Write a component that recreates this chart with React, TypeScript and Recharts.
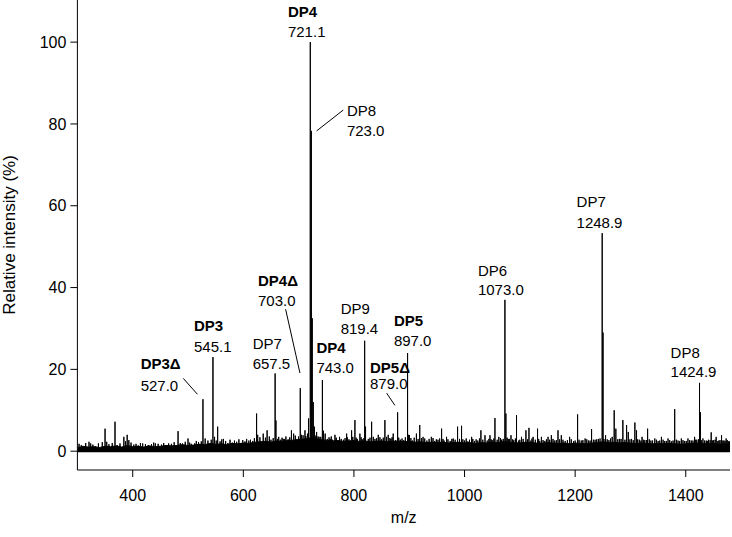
import React from "react";
import {
  Area,
  ComposedChart,
  Line,
  ReferenceLine,
  Scatter,
  XAxis,
  YAxis,
} from "recharts";

// labelled peaks [m/z, relative intensity %]
const mainPeaks: [number, number][] = [
  [527.0, 12.7], [545.1, 23], [657.5, 19], [703.0, 15.4], [721.1, 100],
  [723.0, 78.3], [724.6, 32.5], [743.0, 17.4], [819.4, 27], [879.0, 9.5],
  [897.0, 24], [1073.0, 37], [1248.9, 53.3], [1250.4, 29], [1424.9, 16.7],
];

// smaller peaks
const minorPeaks: [number, number][] = [
  [307, 1.5], [321, 2.3], [324, 1.9], [333, 1.2], [350, 5.5], [353, 2.3],
  [368, 7.2], [372, 1.5], [384, 3.5], [390, 4.0], [393, 2.7], [402, 1.6],
  [410, 1.4], [418, 1.9], [428, 1.5], [434, 1.7], [441, 1.9], [452, 1.6],
  [460, 1.5], [470, 1.8], [482, 4.9], [490, 1.9], [500, 3.1], [506, 1.8],
  [512, 1.9], [519, 2.2], [531, 3.1], [548, 3.5], [553.6, 6.0], [558, 2.4],
  [564, 3.0], [572, 2.0], [580, 2.1], [588, 2.3], [596, 2.0], [603, 2.4],
  [610, 2.6], [617, 2.5], [624, 9.2], [626, 4.0], [636, 4.3], [643, 5.1],
  [650, 2.8], [659, 7.5], [662, 3.0], [667, 2.8], [672, 3.0], [674, 3.0],
  [681, 2.9], [687, 5.1], [691, 4.3], [697, 3.0], [705, 4.0], [711.5, 5.1],
  [716, 4.3], [718, 8], [726.5, 12], [728.5, 6], [732.5, 4.7], [737, 3.5],
  [745, 5], [748, 4.3], [752, 3.0], [757, 3.0], [761, 2.8], [765.7, 4.0],
  [771, 2.7], [777, 3.0], [781, 2.8], [786.8, 4.3], [791, 2.9], [795.8, 5.1],
  [801.8, 7.6], [806, 3.0], [810.8, 4.3], [815, 2.9], [821, 6], [826, 3.0],
  [832, 7.2], [838, 3.0], [844, 4.0], [850, 2.9], [856, 7.6], [862, 4.0],
  [867, 3.0], [871, 4.3], [875, 2.7], [884, 2.8], [890, 2.7], [899, 4],
  [900.5, 3.9], [906, 2.6], [913, 4.3], [919, 6.4], [925, 3.5], [932, 2.6],
  [940, 3.5], [946, 2.5], [952, 2.8], [958.5, 5.5], [963, 2.6], [967.5, 3.5],
  [974, 2.5], [979.5, 3.1], [987.4, 6.0], [994.6, 6.2], [1000, 2.6], [1006, 2.4],
  [1012.8, 3.5], [1018, 2.5], [1024, 2.6], [1029.6, 5.1], [1037, 3.9], [1041, 2.6],
  [1046, 3.9], [1050, 2.7], [1055, 8.1], [1062, 3.5], [1067, 2.8], [1074.8, 9.2],
  [1079, 3.0], [1084, 3.9], [1089, 2.7], [1094, 8.8], [1098, 2.6], [1103, 3.5],
  [1111, 5.1], [1116.5, 5.7], [1120, 2.6], [1124, 3.5], [1132, 5.5], [1136, 2.5],
  [1139, 3.5], [1145, 2.5], [1151, 3.5], [1157, 3.9], [1163, 2.6], [1169, 5.1],
  [1175, 3.9], [1182, 2.5], [1190, 3.5], [1197, 2.4], [1204.4, 9.0], [1211, 2.6],
  [1218, 3.1], [1224, 2.6], [1229.7, 5.4], [1236, 2.8], [1242, 3.0], [1255, 3.9],
  [1261, 2.7], [1267, 3.5], [1270.6, 10.0], [1273.6, 5.5], [1280, 3.0], [1286.3, 7.6],
  [1293, 6.4], [1296, 4.7], [1302, 3.0], [1308, 7.0], [1311, 5.1], [1316, 2.8],
  [1321, 3.5], [1326, 2.7], [1331, 5.5], [1337, 2.6], [1344, 3.1], [1350, 2.5],
  [1356, 3.5], [1362, 2.5], [1368, 3.1], [1374, 2.4], [1380, 10.3], [1386, 2.6],
  [1392, 3.1], [1398, 2.5], [1404, 3.1], [1410, 2.6], [1416, 3.5], [1420, 2.8],
  [1426.5, 9.5], [1431, 3.1], [1437, 2.6], [1441, 2.8], [1446, 4.6], [1450, 2.7],
  [1455, 3.5], [1460, 2.6], [1464.7, 3.9], [1469, 2.6], [1473, 3.1], [1477, 2.4],
];

// hair-like noise spikes in the grass
const noiseSpikes: [number, number][] = [
  [303, 1.8], [315, 2.0], [328, 1.6], [338, 1.9], [345, 2.2], [357, 1.7], [363, 2.0],
  [377, 1.9], [387, 2.4], [397, 2.1], [406, 1.8], [414, 2.0], [423, 1.7], [438, 2.1],
  [446, 1.8], [456, 2.0], [465, 1.9], [475, 2.2], [486, 2.0], [495, 2.3], [503, 2.1],
  [515, 2.5], [524, 2.4], [536, 2.6], [542, 2.8], [551, 2.6], [561, 2.9], [568, 2.5],
  [576, 2.8], [584, 2.6], [592, 2.9], [599, 2.7], [606, 3.0], [613, 2.8], [620, 3.2],
  [630, 3.4], [640, 3.3], [647, 3.6], [654, 3.2], [664, 3.5], [670, 3.3], [677, 3.6],
  [684, 3.4], [694, 3.8], [700, 3.6], [708, 3.9], [713, 3.7], [730, 3.8], [735, 3.6],
  [740, 3.5], [755, 3.4], [759, 3.6], [768, 3.3], [774, 3.5], [784, 3.2], [788, 3.4],
  [798, 3.5], [804, 3.3], [813, 3.4], [818, 3.2], [829, 3.3], [835, 3.5], [841, 3.2],
  [847, 3.4], [853, 3.3], [859, 3.5], [865, 3.2], [869, 3.4], [881, 3.3], [887, 3.1],
  [893, 3.4], [903, 3.2], [909, 3.3], [916, 3.0], [922, 3.2], [928, 3.1], [936, 3.0],
  [943, 3.2], [949, 2.9], [955, 3.1], [961, 3.0], [970, 2.9], [977, 3.0], [983, 2.8],
  [991, 3.0], [997, 2.9], [1003, 3.1], [1009, 2.8], [1015, 3.0], [1021, 2.9], [1027, 3.1],
  [1033, 2.8], [1044, 3.0], [1048, 2.9], [1053, 3.1], [1059, 2.8], [1065, 3.2], [1070, 3.0],
  [1077, 3.3], [1081, 3.0], [1087, 2.9], [1092, 3.1], [1100, 2.8], [1106, 3.0], [1114, 2.9],
  [1122, 3.1], [1128, 2.8], [1134, 3.0], [1142, 2.7], [1148, 2.9], [1154, 2.8], [1160, 3.0],
  [1166, 2.7], [1172, 2.9], [1178, 2.8], [1186, 2.7], [1193, 2.9], [1200, 2.6], [1207, 2.8],
  [1214, 2.7], [1221, 2.9], [1227, 2.6], [1233, 2.8], [1239, 2.9], [1245, 3.1], [1252, 3.0],
  [1258, 2.9], [1264, 3.1], [1277, 2.9], [1283, 3.0], [1290, 2.8], [1299, 2.9], [1305, 2.7],
  [1313, 2.9], [1319, 2.6], [1324, 2.8], [1329, 2.7], [1334, 2.9], [1340, 2.6], [1347, 2.8],
  [1353, 2.6], [1359, 2.8], [1365, 2.5], [1371, 2.7], [1377, 2.6], [1383, 2.8], [1389, 2.5],
  [1395, 2.7], [1401, 2.5], [1407, 2.7], [1413, 2.6], [1418, 2.8], [1423, 2.9], [1428, 2.7],
  [1434, 2.6], [1439, 2.5], [1444, 2.7], [1448, 2.6], [1453, 2.8], [1458, 2.5], [1462, 2.7],
  [1467, 2.6], [1471, 2.5], [1475, 2.7], [1479, 2.4],
];

// noise floor level along the trace
const noiseFloor: [number, number][] = [
  [300, 0.8], [310, 1.2], [320, 1.0], [330, 1.1], [340, 0.9], [350, 1.2], [360, 1.1],
  [370, 1.3], [380, 1.0], [390, 1.4], [400, 1.1], [410, 1.2], [420, 1.0], [430, 1.3],
  [440, 1.1], [450, 1.2], [460, 1.4], [470, 1.3], [480, 1.4], [490, 1.6], [500, 1.4],
  [510, 1.5], [520, 1.7], [530, 1.6], [540, 1.9], [550, 1.7], [560, 1.8], [570, 1.6],
  [580, 1.9], [590, 1.8], [600, 2.0], [610, 1.9], [620, 2.2], [630, 2.3], [640, 2.4],
  [650, 2.2], [660, 2.5], [670, 2.4], [680, 2.6], [690, 2.7], [700, 2.8], [710, 3.0],
  [720, 3.2], [730, 3.0], [740, 2.8], [750, 2.7], [760, 2.5], [770, 2.6], [780, 2.4],
  [790, 2.5], [800, 2.6], [810, 2.4], [820, 2.5], [830, 2.3], [840, 2.4], [850, 2.5],
  [860, 2.3], [870, 2.4], [880, 2.5], [890, 2.3], [900, 2.4], [910, 2.2], [920, 2.3],
  [930, 2.1], [940, 2.2], [950, 2.1], [960, 2.2], [970, 2.0], [980, 2.1], [990, 2.2],
  [1000, 2.0], [1010, 2.1], [1020, 1.9], [1030, 2.1], [1040, 2.0], [1050, 2.2],
  [1060, 2.1], [1070, 2.3], [1080, 2.2], [1090, 2.1], [1100, 2.0], [1110, 2.2],
  [1120, 2.1], [1130, 2.0], [1140, 1.9], [1150, 2.1], [1160, 2.0], [1170, 1.9],
  [1180, 2.0], [1190, 1.8], [1200, 2.0], [1210, 1.9], [1220, 1.8], [1230, 2.0],
  [1240, 2.1], [1250, 2.3], [1260, 2.1], [1270, 2.2], [1280, 2.0], [1290, 2.1],
  [1300, 2.0], [1310, 1.9], [1320, 2.0], [1330, 1.9], [1340, 1.8], [1350, 1.9],
  [1360, 1.8], [1370, 1.9], [1380, 1.8], [1390, 1.7], [1400, 1.8], [1410, 1.9],
  [1420, 2.0], [1430, 1.9], [1440, 1.8], [1450, 1.9], [1460, 1.7], [1470, 1.8],
  [1480, 1.6],
];

// annotation text: [left m/z, baseline intensity, text, bold]
const labels: [number, number, string, boolean][] = [
  [680.7, 106.1, "DP4", true], [680.7, 101.2, "721.1", false],
  [787.3, 81.9, "DP8", false], [787.3, 77.0, "723.0", false],
  [626.5, 40.3, "DP4Δ", true], [626.5, 35.5, "703.0", false],
  [510.8, 29.3, "DP3", true], [510.8, 24.3, "545.1", false],
  [414.4, 20.0, "DP3Δ", true], [414.4, 14.7, "527.0", false],
  [616.9, 24.9, "DP7", false], [616.9, 20.0, "657.5", false],
  [732.2, 23.9, "DP4", true], [732.2, 19.0, "743.0", false],
  [776.0, 33.5, "DP9", false], [776.0, 28.6, "819.4", false],
  [872.3, 30.6, "DP5", true], [872.3, 25.7, "897.0", false],
  [829.0, 19.1, "DP5Δ", true], [829.0, 15.1, "879.0", false],
  [1024.2, 42.8, "DP6", false], [1024.2, 38.1, "1073.0", false],
  [1202.6, 59.7, "DP7", false], [1202.6, 54.5, "1248.9", false],
  [1372.5, 22.9, "DP8", false], [1372.5, 18.2, "1424.9", false],
];

// leader lines [m/z1, y1, m/z2, y2]
const leaders: [number, number, number, number][] = [
  [780.7, 83.4, 732.6, 78.3],
  [676.5, 34.7, 702.4, 19.1],
  [491.4, 17.8, 517.1, 13.9],
  [859.1, 14.2, 874.1, 11.2],
];

const xTicks = [400, 600, 800, 1000, 1200, 1400];
const yTicks = [0, 20, 40, 60, 80, 100];

const FONT = "'Liberation Sans', Arial, sans-serif";

const sticks: { mz: number; v: number }[] = [];
[...mainPeaks, ...minorPeaks, ...noiseSpikes]
  .sort((a, b) => a[0] - b[0])
  .forEach(([mz, h]) => {
    sticks.push({ mz, v: 0 }, { mz, v: h }, { mz, v: 0 });
  });

const floorData = noiseFloor.map(([mz, v]) => ({ mz, v }));
const labelData = labels.map(([mz, v, text, bold]) => ({ mz, v, text, bold }));

const LabelText = (props: any) => {
  const { cx, cy, payload } = props;
  return (
    <text
      x={cx}
      y={cy}
      fontSize={15}
      fontFamily={FONT}
      fontWeight={payload.bold ? "bold" : "normal"}
      fill="#000"
    >
      {payload.text}
    </text>
  );
};

export default function App() {
  return (
    <div style={{ position: "absolute", left: 0, top: 0, background: "#fff" }}>
      <ComposedChart
        width={732}
        height={537}
        margin={{ top: 0, right: 2, bottom: 0, left: 0 }}
        style={{ fontFamily: FONT }}
      >
        <XAxis
          dataKey="mz"
          type="number"
          domain={[300, 1480]}
          ticks={xTicks}
          allowDataOverflow
          height={67}
          tickSize={7}
          tickMargin={13}
          stroke="#000"
          tick={{ fill: "#000", fontSize: 16 }}
          label={{ value: "m/z", position: "insideBottom", offset: 14, fill: "#000", fontSize: 16 }}
        />
        <YAxis
          type="number"
          domain={[-4.6, 110.3]}
          ticks={yTicks}
          allowDataOverflow
          width={77.4}
          tickSize={7}
          tickMargin={4}
          stroke="#000"
          tick={{ fill: "#000", fontSize: 16 }}
          label={{
            value: "Relative intensity (%)",
            angle: -90,
            position: "insideLeft",
            offset: 9,
            fill: "#000",
            fontSize: 17,
            style: { textAnchor: "middle" },
          }}
        />
        <Area
          data={floorData}
          dataKey="v"
          type="linear"
          baseValue={0}
          stroke="#000"
          strokeWidth={1}
          fill="#000"
          fillOpacity={1}
          isAnimationActive={false}
        />
        <Line
          data={sticks}
          dataKey="v"
          type="linear"
          stroke="#000"
          strokeWidth={1}
          dot={false}
          isAnimationActive={false}
        />
        <ReferenceLine y={0} stroke="#000" strokeWidth={2} />
        {leaders.map(([x1, y1, x2, y2], i) => (
          <ReferenceLine
            key={i}
            segment={[{ x: x1, y: y1 }, { x: x2, y: y2 }]}
            stroke="#000"
            strokeWidth={1}
          />
        ))}
        <Scatter
          data={labelData}
          dataKey="v"
          shape={LabelText}
          isAnimationActive={false}
        />
      </ComposedChart>
    </div>
  );
}
